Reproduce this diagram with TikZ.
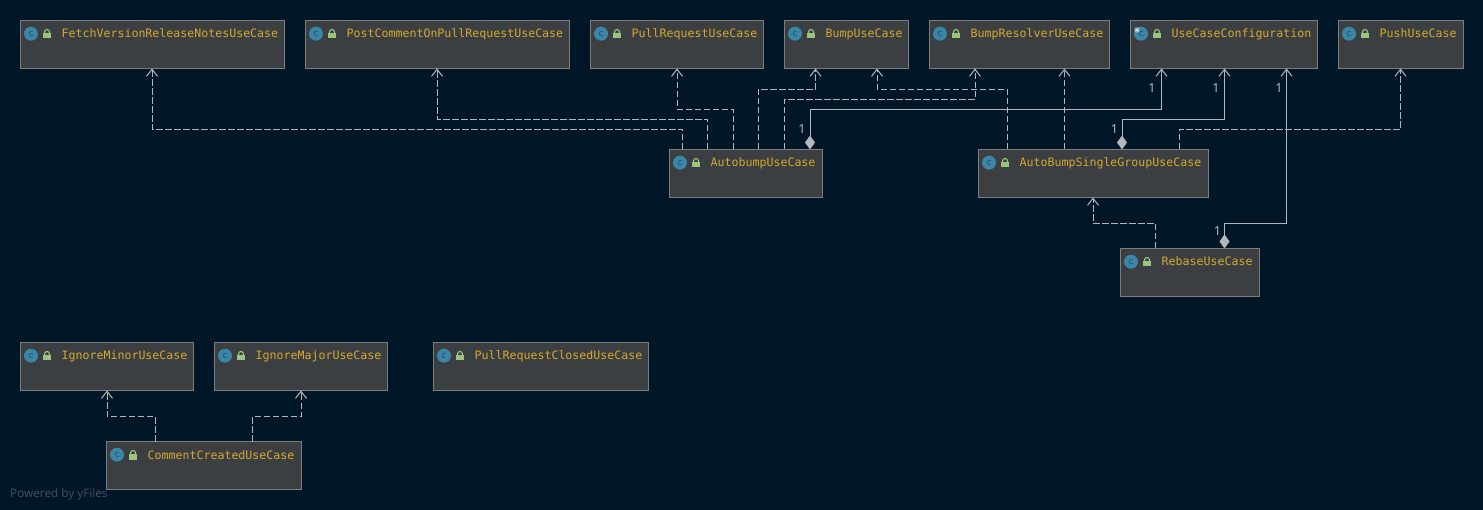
\documentclass[tikz,border=0pt]{standalone}
\usepackage{fontspec}
\setmainfont{Noto Sans}
\newfontfamily\boxmono{DejaVu Sans Mono}
\usetikzlibrary{arrows.meta}
\definecolor{bgc}{HTML}{011627}
\definecolor{boxfill}{HTML}{3C3F41}
\definecolor{boxline}{HTML}{7B7D7E}
\definecolor{titlec}{HTML}{D6A92E}
\definecolor{linec}{HTML}{B4B8BB}
\definecolor{iconc}{HTML}{3B86A6}
\definecolor{iconin}{HTML}{1F4F66}
\definecolor{lockc}{HTML}{9BC47F}
\tikzset{
  ucbox/.style={draw=boxline,fill=boxfill,line width=1pt,minimum height=48pt,inner sep=0pt,outer sep=0pt,anchor=north west},
  uctitle/.style={anchor=base west,inner sep=0pt,text=titlec,font=\boxmono\fontsize{11.6}{13}\selectfont},
  ucicon/.style={circle,fill=iconc,minimum size=14pt,inner sep=0pt,text=iconin,font=\boxmono\fontsize{9}{9}\selectfont},
  dep/.style={draw=linec,line width=1pt,dash pattern=on 6.5pt off 2.5pt,-{Straight Barb[length=7pt,width=11pt,line width=1pt]}},
  assoc/.style={draw=linec,line width=1pt,{Diamond[length=14pt,width=10pt,fill=linec,sep=0pt]}-{Straight Barb[length=7pt,width=11pt,line width=1pt]}},
  mult/.style={inner sep=0pt,text=linec,font=\fontsize{12.5}{13}\selectfont},
  wm/.style={anchor=west,inner sep=0pt,text=white!24!bgc,font=\fontsize{11.7}{13}\selectfont}
}
\newcommand{\ucnode}[5]{%
  \node[ucbox,minimum width=#4pt] (#1) at (#2,#3) {};
  \node[ucicon] (#1-icon) at ([xshift=10.5pt,yshift=-13.2pt]#1.north west) {c};
  \fill[lockc] ([xshift=22.5pt,yshift=-12.5pt]#1.north west) rectangle ++(8,5.5);
  \draw[lockc,line width=1.1pt] ([xshift=24pt,yshift=-12.5pt]#1.north west) -- ++(0,-1) arc[start angle=180,end angle=0,radius=2.5pt] -- ++(0,1);
  \node[uctitle] (#1-title) at ([xshift=41pt,yshift=-17.5pt]#1.north west) {#5};
}
\begin{document}
\begin{tikzpicture}[x=1pt,y=-1pt]
\useasboundingbox[fill=bgc] (0,0) rectangle (1483,510);
\ucnode{fetch}{20.5}{20.5}{264}{FetchVersionReleaseNotesUseCase}
\ucnode{post}{305.5}{20.5}{264}{PostCommentOnPullRequestUseCase}
\ucnode{pr}{590.5}{20.5}{173}{PullRequestUseCase}
\ucnode{bump}{784.5}{20.5}{124}{BumpUseCase}
\ucnode{resolver}{929.5}{20.5}{180}{BumpResolverUseCase}
\ucnode{config}{1130.5}{20.5}{187}{UseCaseConfiguration}
\ucnode{push}{1338.5}{20.5}{125}{PushUseCase}
\ucnode{auto}{669.5}{149.5}{153}{AutobumpUseCase}
\ucnode{single}{978.5}{149.5}{230}{AutoBumpSingleGroupUseCase}
\ucnode{rebase}{1120.5}{248.5}{139}{RebaseUseCase}
\ucnode{minor}{20.5}{342.5}{173}{IgnoreMinorUseCase}
\ucnode{major}{214.5}{342.5}{173}{IgnoreMajorUseCase}
\ucnode{closed}{433.5}{342.5}{215}{PullRequestClosedUseCase}
\ucnode{comment}{106.5}{441.5}{195}{CommentCreatedUseCase}
% static marker on the configuration icon
\draw[white!75!iconc,line width=.6pt] ([xshift=-4pt,yshift=3.7pt]config-icon.center) ++(-3,0) -- ++(6,0) ++(-3,-3) -- ++(0,6) ++(-2.2,-5.2) -- ++(4.4,4.4) ++(0,-4.4) -- ++(-4.4,4.4);
% dependencies
\draw[dep] ([xshift=13pt]auto.north west) -- ++(0,-20) -| ([xshift=131.5pt]fetch.south west);
\draw[dep] ([xshift=38pt]auto.north west) -- ++(0,-30) -| ([xshift=131.5pt]post.south west);
\draw[dep] ([xshift=63.5pt]auto.north west) -- ++(0,-40) -| ([xshift=86.5pt]pr.south west);
\draw[dep] ([xshift=88.5pt]auto.north west) -- ++(0,-60) -| ([xshift=31pt]bump.south west);
\draw[dep] ([xshift=114.5pt]auto.north west) -- ++(0,-50) -| ([xshift=45.5pt]resolver.south west);
\draw[dep] ([xshift=28.5pt]single.north west) -- ++(0,-60) -| ([xshift=92.5pt]bump.south west);
\draw[dep] ([xshift=86pt]single.north west) -- ([xshift=135pt]resolver.south west);
\draw[dep] ([xshift=200.5pt]single.north west) -- ++(0,-20) -| ([xshift=62pt]push.south west);
\draw[dep] ([xshift=35pt]rebase.north west) -- ++(0,-25) -| ([xshift=114.5pt]single.south west);
\draw[dep] ([xshift=48.5pt]comment.north west) -- ++(0,-25) -| ([xshift=86.5pt]minor.south west);
\draw[dep] ([xshift=146pt]comment.north west) -- ++(0,-25) -| ([xshift=86.5pt]major.south west);
% compositions
\draw[assoc] ([xshift=140.5pt]auto.north west) -- ++(0,-40) -| ([xshift=31pt]config.south west);
\draw[assoc] ([xshift=143.5pt]single.north west) -- ++(0,-30) -| ([xshift=94pt]config.south west);
\draw[assoc] ([xshift=104pt]rebase.north west) -- ++(0,-25) -| ([xshift=156pt]config.south west);
% multiplicities
\node[mult] (m1) at (802,129) {1};
\node[mult] (m2) at (1152,88.5) {1};
\node[mult] (m3) at (1114.5,129) {1};
\node[mult] (m4) at (1216,88.5) {1};
\node[mult] (m5) at (1217.5,231) {1};
\node[mult] (m6) at (1279,88.5) {1};
\node[wm] (wm) at (10,494) {Powered by yFiles};
\end{tikzpicture}
\end{document}
